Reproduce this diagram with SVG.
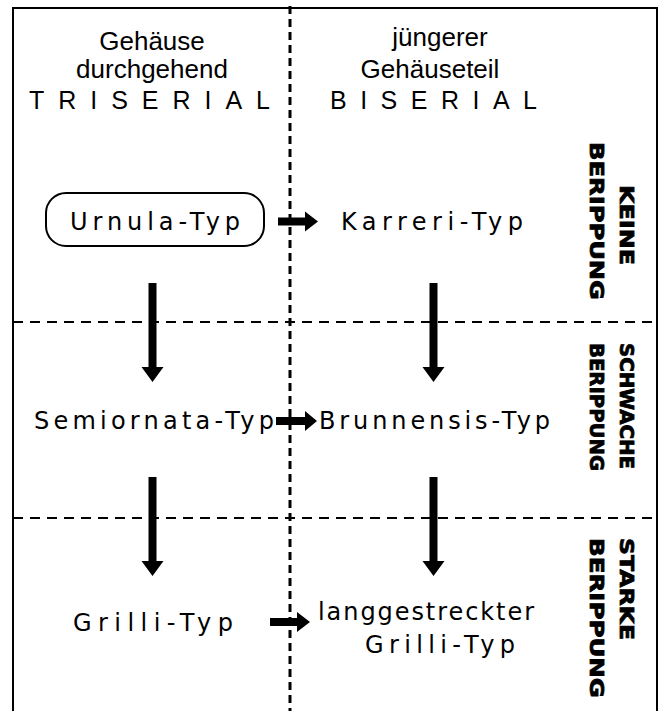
<svg xmlns="http://www.w3.org/2000/svg" width="660" height="711" viewBox="0 0 660 711">
<defs>
<style>
.hd{font-family:"Liberation Sans",Arial,sans-serif;font-size:26px;fill:#000;text-anchor:middle}
.sp{font-family:"Liberation Sans",Arial,sans-serif;font-size:25px;fill:#000}
.ty{font-family:"DejaVu Sans","Liberation Sans",sans-serif;font-size:24px;fill:#000}
.rb{font-family:"DejaVu Sans","Liberation Sans",sans-serif;font-weight:bold;font-size:20px;fill:#000;stroke:#000;stroke-width:0.8}
.frame{fill:none;stroke:#000;stroke-width:2}
.vd{stroke:#000;stroke-width:3;stroke-dasharray:8 5;fill:none}
.hdash{stroke:#000;stroke-width:2;stroke-dasharray:10 7;fill:none}
.arr{fill:#000}
</style>
</defs>
<rect width="660" height="711" fill="#fff"/>
<path class="frame" d="M13,711 V8 H657 V711"/>
<g id="dividers">
<line class="vd" x1="290" y1="6" x2="290" y2="711"/>
<line class="hdash" x1="13" y1="322" x2="657" y2="322"/>
<line class="hdash" x1="13" y1="518" x2="657" y2="518"/>
</g>
<g id="header-left">
<text class="hd" x="152" y="50">Gehäuse</text>
<text class="hd" x="152" y="78">durchgehend</text>
<text class="sp" x="29" y="109" textLength="241" lengthAdjust="spacing">TRISERIAL</text>
</g>
<g id="header-right">
<text class="hd" x="440" y="46">jüngerer</text>
<text class="hd" x="430" y="78">Gehäuseteil</text>
<text class="sp" x="330" y="109" textLength="207" lengthAdjust="spacing">BISERIAL</text>
</g>
<g id="urnula">
<rect x="46" y="193" width="218" height="53" rx="20" fill="none" stroke="#000" stroke-width="2"/>
<text class="ty" x="70" y="230" textLength="170" lengthAdjust="spacing">Urnula-Typ</text>
</g>
<g id="karreri">
<text class="ty" x="341" y="230" textLength="182" lengthAdjust="spacing">Karreri-Typ</text>
</g>
<g id="semiornata">
<text class="ty" x="34" y="429" textLength="240" lengthAdjust="spacing">Semiornata-Typ</text>
</g>
<g id="brunnensis">
<text class="ty" x="319" y="429" textLength="231" lengthAdjust="spacing">Brunnensis-Typ</text>
</g>
<g id="grilli">
<text class="ty" x="73" y="631" textLength="160" lengthAdjust="spacing">Grilli-Typ</text>
</g>
<g id="langgestreckter">
<text class="ty" x="318" y="620" textLength="216" lengthAdjust="spacing">langgestreckter</text>
<text class="ty" x="365" y="653" textLength="150" lengthAdjust="spacing">Grilli-Typ</text>
</g>
<g id="rippung-labels">
<text class="rb" transform="translate(620,185) rotate(90)" textLength="80" lengthAdjust="spacingAndGlyphs">KEINE</text>
<text class="rb" transform="translate(590,142) rotate(90)" textLength="158" lengthAdjust="spacingAndGlyphs">BERIPPUNG</text>
<text class="rb" transform="translate(620,343) rotate(90)" textLength="126" lengthAdjust="spacingAndGlyphs">SCHWACHE</text>
<text class="rb" transform="translate(590,343) rotate(90)" textLength="128" lengthAdjust="spacingAndGlyphs">BERIPPUNG</text>
<text class="rb" transform="translate(620,538) rotate(90)" textLength="102" lengthAdjust="spacingAndGlyphs">STARKE</text>
<text class="rb" transform="translate(590,538) rotate(90)" textLength="160" lengthAdjust="spacingAndGlyphs">BERIPPUNG</text>
</g>
<g id="connectors">
<path class="arr" d="M148.5,283 h8 v84 h7 l-11,15 l-11,-15 h7 z"/>
<path class="arr" d="M148.5,477 h8 v84 h7 l-11,15 l-11,-15 h7 z"/>
<path class="arr" d="M429.5,283 h8 v84 h7 l-11,15 l-11,-15 h7 z"/>
<path class="arr" d="M429.5,477 h8 v84 h7 l-11,15 l-11,-15 h7 z"/>
<path class="arr" d="M278,217.5 h27 v-6 l13,10 l-13,10 v-6 h-27 z"/>
<path class="arr" d="M276,417 h29 v-6 l12,10 l-12,10 v-6 h-29 z"/>
<path class="arr" d="M270,618 h27 v-6 l13,10 l-13,10 v-6 h-27 z"/>
</g>
</svg>
